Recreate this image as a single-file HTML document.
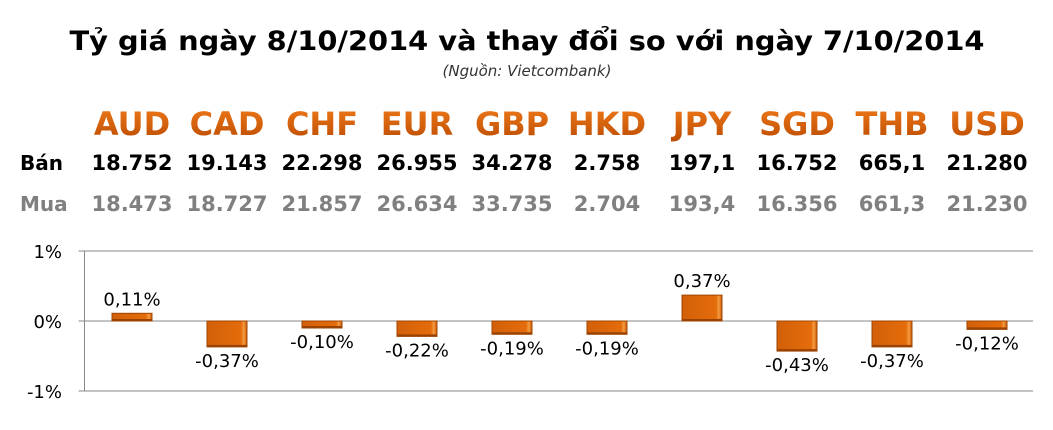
<!DOCTYPE html>
<html><head><meta charset="utf-8"><style>
body{margin:0;background:#fff;}
svg{display:block;font-family:"DejaVu Sans","Liberation Sans",sans-serif;}
</style></head><body>
<svg id="c" width="1053" height="430">
<defs>
<linearGradient id="og" x1="0" y1="0" x2="0" y2="1"><stop offset="0" stop-color="#f07a1a"/><stop offset="1" stop-color="#b94a00"/></linearGradient>
<linearGradient id="bg" x1="0" y1="0" x2="1" y2="0"><stop offset="0" stop-color="#d2600a"/><stop offset="0.85" stop-color="#e46c0a"/><stop offset="0.92" stop-color="#f59a40"/><stop offset="1" stop-color="#c85a05"/></linearGradient>
</defs>
<text x="527" y="50" text-anchor="middle" font-size="27" font-weight="bold" textLength="915" lengthAdjust="spacingAndGlyphs">Tỷ giá ngày 8/10/2014 và thay đổi so với ngày 7/10/2014</text>
<text x="527" y="76" text-anchor="middle" font-size="15" font-style="italic" fill="#333">(Nguồn: Vietcombank)</text>
<text x="20" y="170" font-size="20" font-weight="bold">Bán</text>
<text x="20" y="211" font-size="20" font-weight="bold" fill="#808080">Mua</text>
<g id="plot"></g>
</svg>
<script>
const currencies=["AUD","CAD","CHF","EUR","GBP","HKD","JPY","SGD","THB","USD"];
const sellRates=["18.752","19.143","22.298","26.955","34.278","2.758","197,1","16.752","665,1","21.280"];
const buyRates=["18.473","18.727","21.857","26.634","33.735","2.704","193,4","16.356","661,3","21.230"];
const changes=[0.11,-0.37,-0.10,-0.22,-0.19,-0.19,0.37,-0.43,-0.37,-0.12];
const yTicks=[1,0,-1];
const NS="http://www.w3.org/2000/svg";
const svg=document.getElementById('c');
const g=document.getElementById('plot');
const left=84.5,step=95,y0=321,ppu=70,right=1033;
const xc=i=>left+step*(i+0.5);
const ys=v=>y0-v*ppu;
function mk(t,a,p){const e=document.createElementNS(NS,t);for(const k in a)e.setAttribute(k,a[k]);(p||g).appendChild(e);return e;}
let ax=mk('line',{x1:left,y1:ys(1),x2:left,y2:ys(-1),stroke:'#888'});


yTicks.forEach(v=>{
 const gl=mk('line',{x1:left-6,y1:ys(v),x2:right,y2:ys(v),stroke:'#888'});
 
 
 const t=mk('text',{x:62,y:ys(v)+7,'text-anchor':'end','font-size':18});t.textContent=v+'%';
 
 });
currencies.forEach((c,i)=>{
 const x=xc(i);
 const h=mk('text',{x:x,y:135,'text-anchor':'middle','font-size':32,'font-weight':'bold',fill:'url(#og)'},svg);h.textContent=c;
 
 
 const s=mk('text',{x:x,y:170,'text-anchor':'middle','font-size':21,'font-weight':'bold'},svg);s.textContent=sellRates[i];
 
 
 const b=mk('text',{x:x,y:211,'text-anchor':'middle','font-size':21,'font-weight':'bold',fill:'#808080'},svg);b.textContent=buyRates[i];
 
 
 const v=changes[i],yt=Math.min(ys(v),y0),hh=Math.abs(ys(v)-y0);
 const r=mk('rect',{x:x-20,y:yt,width:40,height:hh,fill:'url(#bg)',stroke:'#a04400','stroke-width':1});
 
 
 const sh=mk('rect',{x:x-20,y:yt+hh-2,width:40,height:2,fill:'#9a4200'});
 
 
 const lab=mk('text',{x:x,y:v>=0?yt-8:yt+hh+20,'text-anchor':'middle','font-size':18});
 lab.textContent=v.toFixed(2).replace('.',',')+'%';
 
 
});
</script>
</body></html>
